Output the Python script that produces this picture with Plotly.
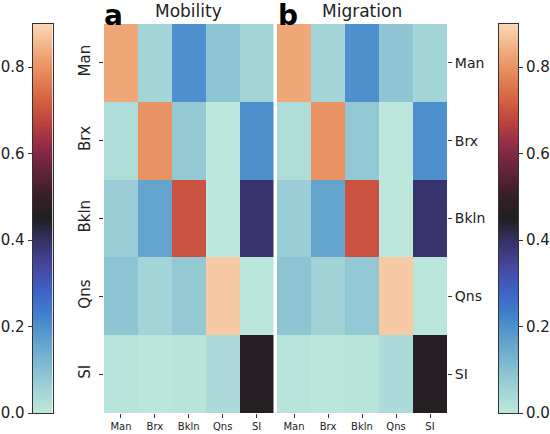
import numpy as np
import plotly.graph_objects as go

boroughs = ["Man", "Brx", "Bkln", "Qns", "SI"]

mobility = [
    [0.83, 0.05, 0.20, 0.09, 0.05],
    [0.03, 0.80, 0.077, 0.00, 0.20],
    [0.067, 0.16, 0.70, 0.00, 0.39],
    [0.09, 0.05, 0.077, 0.88, 0.005],
    [0.012, 0.003, 0.008, 0.035, 0.46],
]

migration = [
    [0.83, 0.05, 0.20, 0.085, 0.05],
    [0.03, 0.80, 0.08, 0.00, 0.20],
    [0.067, 0.16, 0.70, 0.00, 0.39],
    [0.09, 0.055, 0.08, 0.88, 0.005],
    [0.012, 0.003, 0.008, 0.035, 0.46],
]

cbar_ticks = [0.0, 0.2, 0.4, 0.6, 0.8]
vmin, vmax = 0.0, 0.9

icefire = [
    [0.000, "rgb(189,231,219)"],
    [0.0625, "rgb(160,210,214)"],
    [0.125, "rgb(128,186,208)"],
    [0.1875, "rgb(95,160,204)"],
    [0.25, "rgb(65,130,205)"],
    [0.3125, "rgb(62,98,198)"],
    [0.375, "rgb(70,72,160)"],
    [0.4375, "rgb(55,50,105)"],
    [0.5, "rgb(32,31,34)"],
    [0.5625, "rgb(58,31,40)"],
    [0.625, "rgb(100,36,60)"],
    [0.6875, "rgb(145,44,70)"],
    [0.75, "rgb(190,68,62)"],
    [0.8125, "rgb(215,102,66)"],
    [0.875, "rgb(230,138,90)"],
    [0.9375, "rgb(242,176,130)"],
    [1.0, "rgb(250,215,182)"],
]

W, H = 550, 434
FONT = "DejaVu Sans"
TXT = "#222222"

def px(x):
    return x / W

def py(y):
    return 1 - y / H

top, bottom = 24, 413
ydom = [py(bottom), py(top)]

levels = np.linspace(vmin, vmax, 300)
grad_z = [[v] for v in levels]

fig = go.Figure()

fig.add_trace(go.Heatmap(z=mobility, x=boroughs, y=boroughs, colorscale=icefire,
                         zmin=vmin, zmax=vmax, showscale=False,
                         xaxis="x", yaxis="y", hoverinfo="skip"))
fig.add_trace(go.Heatmap(z=migration, x=boroughs, y=boroughs, colorscale=icefire,
                         zmin=vmin, zmax=vmax, showscale=False,
                         xaxis="x2", yaxis="y2", hoverinfo="skip"))
# colorbars drawn as gradient strips
fig.add_trace(go.Heatmap(z=grad_z, x=[0], y=levels, colorscale=icefire,
                         zmin=vmin, zmax=vmax, showscale=False,
                         xaxis="x3", yaxis="y3", hoverinfo="skip"))
fig.add_trace(go.Heatmap(z=grad_z, x=[0], y=levels, colorscale=icefire,
                         zmin=vmin, zmax=vmax, showscale=False,
                         xaxis="x4", yaxis="y4", hoverinfo="skip"))

tickcommon = dict(ticks="outside", ticklen=4, tickwidth=1, tickcolor="#333333",
                  showgrid=False, zeroline=False, automargin=False)

fig.update_layout(
    width=W, height=H,
    margin=dict(l=0, r=0, t=0, b=0),
    paper_bgcolor="white", plot_bgcolor="white",
    font=dict(family=FONT, color=TXT),
    xaxis=dict(domain=[px(104), px(273.5)], anchor="y", tickfont=dict(size=10),
               **tickcommon),
    yaxis=dict(domain=ydom, anchor="x", autorange="reversed", tickangle=-90,
               tickfont=dict(size=15), ticklabelstandoff=3, **tickcommon),
    xaxis2=dict(domain=[px(277), px(447)], anchor="y2", tickfont=dict(size=10),
                **tickcommon),
    yaxis2=dict(domain=ydom, anchor="x2", side="right", autorange="reversed",
                tickfont=dict(size=14), **tickcommon),
    xaxis3=dict(domain=[px(32.5), px(52.5)], anchor="y3", showticklabels=False,
                showgrid=False, zeroline=False, ticks="", showline=True, mirror=True,
                linecolor="#333333", linewidth=1, range=[-0.5, 0.5]),
    yaxis3=dict(domain=ydom, anchor="x3", range=[vmin, vmax], tickvals=cbar_ticks,
                ticktext=[f"{t:.1f}" for t in cbar_ticks], tickfont=dict(size=15),
                showline=True, mirror=True, linecolor="#333333", linewidth=1,
                **tickcommon),
    xaxis4=dict(domain=[px(498.5), px(518)], anchor="y4", showticklabels=False,
                showgrid=False, zeroline=False, ticks="", showline=True, mirror=True,
                linecolor="#333333", linewidth=1, range=[-0.5, 0.5]),
    yaxis4=dict(domain=ydom, anchor="x4", side="right", range=[vmin, vmax],
                tickvals=cbar_ticks, ticktext=[f"{t:.1f}" for t in cbar_ticks],
                tickfont=dict(size=15), showline=True, mirror=True,
                linecolor="#333333", linewidth=1, **tickcommon),
)

annos = [
    dict(text="Mobility", x=(px(104) + px(273.5)) / 2, xanchor="center",
         y=py(23), yanchor="bottom", font=dict(size=17, color=TXT)),
    dict(text="Migration", x=(px(277) + px(447)) / 2, xanchor="center",
         y=py(23), yanchor="bottom", font=dict(size=17, color=TXT)),
    dict(text="<b>a</b>", x=px(102), xanchor="left", y=py(34), yanchor="bottom",
         font=dict(size=28, color="#000000")),
    dict(text="<b>b</b>", x=px(276), xanchor="left", y=py(34), yanchor="bottom",
         font=dict(size=28, color="#000000")),
]
for a in annos:
    fig.add_annotation(xref="paper", yref="paper", showarrow=False, **a)

fig.write_html("out.html", config={"displayModeBar": False},
               post_script="document.body.style.margin='0px';document.body.style.overflow='hidden';")
